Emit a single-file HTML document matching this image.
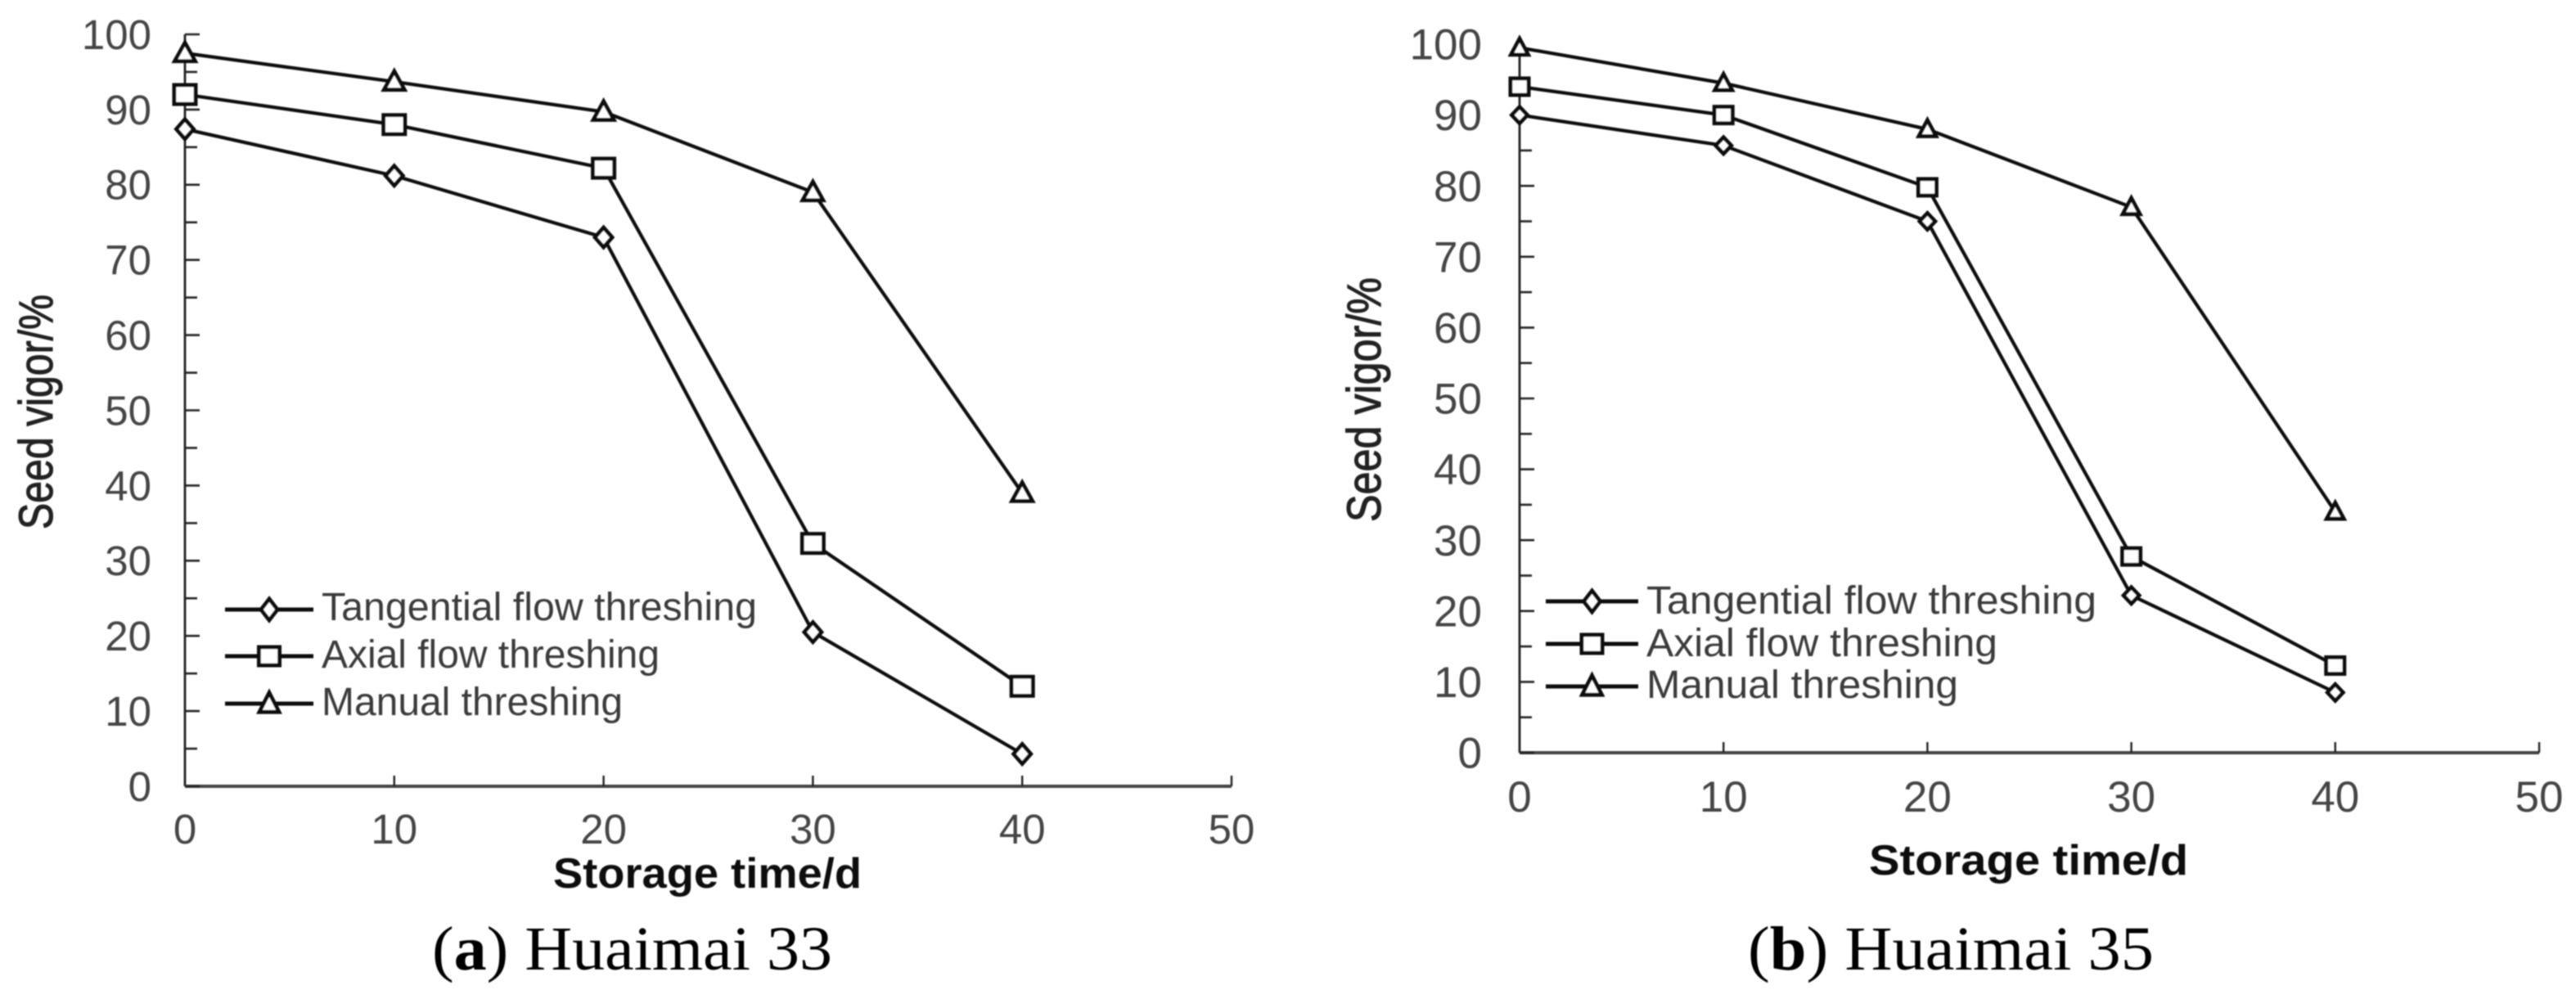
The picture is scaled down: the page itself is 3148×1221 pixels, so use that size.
<!DOCTYPE html>
<html lang="en">
<head>
<meta charset="utf-8">
<title>Seed vigor vs storage time</title>
<style>
html,body{margin:0;padding:0;background:#fff;}
svg{display:block;}
text{font-family:"Liberation Sans",sans-serif;}
.tick{fill:#444;}
.legend-label{fill:#3a3a3a;font-size:48px;}
.axis-title{fill:#111;font-weight:bold;font-size:52px;}
.y-title{fill:#222;font-size:58px;stroke:#222;stroke-width:1.1px;}
.caption{font-family:"Liberation Serif",serif;fill:#000;font-size:76px;}
</style>
</head>
<body>
<svg id="figure" xmlns="http://www.w3.org/2000/svg" width="3148" height="1221" viewBox="0 0 3148 1221">
  <defs><filter id="soft" x="-2%" y="-2%" width="104%" height="104%"><feGaussianBlur stdDeviation="0.9"/></filter></defs>
  <rect width="3148" height="1221" fill="#fff"/>
  <g filter="url(#soft)">
    <g id="panel-a"></g>
    <g id="panel-b"></g>

    <text class="y-title" transform="translate(64,647) rotate(-90)" textLength="287" lengthAdjust="spacingAndGlyphs">Seed vigor/%</text>
    <text class="axis-title" x="676" y="1085" textLength="377" lengthAdjust="spacingAndGlyphs">Storage time/d</text>
    <text class="legend-label" x="393" y="758" textLength="532" lengthAdjust="spacingAndGlyphs">Tangential flow threshing</text>
    <text class="legend-label" x="393" y="816" textLength="413" lengthAdjust="spacingAndGlyphs">Axial flow threshing</text>
    <text class="legend-label" x="393" y="874" textLength="368" lengthAdjust="spacingAndGlyphs">Manual threshing</text>
    <text class="caption" x="528" y="1185" textLength="489" lengthAdjust="spacingAndGlyphs">(<tspan font-weight="bold">a</tspan>) Huaimai 33</text>

    <text class="y-title" transform="translate(1687,638) rotate(-90)" textLength="299" lengthAdjust="spacingAndGlyphs">Seed vigor/%</text>
    <text class="axis-title" x="2284" y="1069" textLength="390" lengthAdjust="spacingAndGlyphs">Storage time/d</text>
    <text class="legend-label" x="2012" y="750" textLength="550" lengthAdjust="spacingAndGlyphs">Tangential flow threshing</text>
    <text class="legend-label" x="2012" y="802" textLength="429" lengthAdjust="spacingAndGlyphs">Axial flow threshing</text>
    <text class="legend-label" x="2012" y="853" textLength="381" lengthAdjust="spacingAndGlyphs">Manual threshing</text>
    <text class="caption" x="2136" y="1185" textLength="496" lengthAdjust="spacingAndGlyphs">(<tspan font-weight="bold">b</tspan>) Huaimai 35</text>
  </g>
</svg>
<script>
const storageDays = [0, 10, 20, 30, 40];
const xTickLabels = [0, 10, 20, 30, 40, 50];
const yTickLabels = [0, 10, 20, 30, 40, 50, 60, 70, 80, 90, 100];
const yMinorTicks = [5, 15, 25, 35, 45, 55, 65, 75, 85, 95];

const panelATangential = [87.4, 81.2, 73.0, 20.5, 4.3];
const panelAAxial = [92.0, 88.0, 82.2, 32.3, 13.3];
const panelAManual = [97.5, 93.7, 89.7, 79.0, 39.0];

const panelBTangential = [90.0, 85.7, 75.0, 22.2, 8.5];
const panelBAxial = [94.0, 90.0, 79.8, 27.7, 12.3];
const panelBManual = [99.5, 94.5, 88.0, 77.0, 34.0];

const NS = 'http://www.w3.org/2000/svg';

function make(tag, parent, geometry) {
  const node = document.createElementNS(NS, tag);
  for (const key in geometry) node.setAttribute(key, geometry[key]);
  parent.appendChild(node);
  return node;
}

function drawMarker(parent, kind, cx, cy, w, h) {
  const sw = 4.8;
  const style = {fill: '#fff', stroke: '#111', 'stroke-width': sw, 'stroke-linejoin': 'miter'};
  let node;
  if (kind === 'square') {
    node = make('rect', parent, Object.assign({x: cx - w / 2 + sw / 2, y: cy - h / 2 + sw / 2, width: w - sw, height: h - sw}, style));
  } else if (kind === 'diamond') {
    const p = [[cx, cy - h / 2 + 2], [cx + w / 2 - 2, cy], [cx, cy + h / 2 - 2], [cx - w / 2 + 2, cy]];
    node = make('polygon', parent, Object.assign({points: p.join(' ')}, style));
  } else {
    const p = [[cx, cy - h * 0.58 + 4], [cx + w / 2 - 3, cy + h * 0.42 - sw / 2], [cx - w / 2 + 3, cy + h * 0.42 - sw / 2]];
    node = make('polygon', parent, Object.assign({points: p.join(' ')}, style));
  }
  return node;
}

function drawPanel(root, layout, seriesList) {
  const sx = v => layout.x0 + (v / 50) * (layout.x50 - layout.x0);
  const sy = v => layout.y0 - (v / 100) * (layout.y0 - layout.y100);

  const yAxis = make('line', root, {x1: sx(0), x2: sx(0), y1: sy(100), y2: sy(0), stroke: '#222', 'stroke-width': 2.8});
  
  

  const xAxis = make('line', root, {x1: sx(0), x2: sx(50), y1: sy(0), y2: sy(0), stroke: '#444', 'stroke-width': 4});
  
  

  yTickLabels.forEach(v => {
    if (v <= layout.tickMax) {
      const tick = make('line', root, {x1: sx(0), x2: sx(0) + 18, y1: sy(v), y2: sy(v), stroke: '#222', 'stroke-width': 2.6});
      
      
    }
    const label = make('text', root, {x: layout.yLabelRight, y: sy(v) + layout.fontSize * 0.35, 'text-anchor': 'end', 'font-size': layout.fontSize, class: 'tick'});
    label.textContent = v;
    
    
  });

  yMinorTicks.forEach(v => {
    if (v > layout.tickMax) return;
    const tick = make('line', root, {x1: sx(0), x2: sx(0) + 15, y1: sy(v), y2: sy(v), stroke: '#222', 'stroke-width': 2.6});
    
    
  });

  xTickLabels.forEach(v => {
    if (v > 0) {
      const tick = make('line', root, {x1: sx(v), x2: sx(v), y1: sy(0), y2: sy(0) - 13, stroke: '#222', 'stroke-width': 2.4});
      
      
    }
    const label = make('text', root, {x: sx(v), y: layout.xLabelBase, 'text-anchor': 'middle', 'font-size': layout.fontSize, class: 'tick'});
    label.textContent = v;
    
    
  });

  seriesList.forEach(series => {
    const pts = series.values.map((v, i) => [sx(storageDays[i]), sy(v)]);
    const line = make('polyline', root, {points: pts.join(' '), fill: 'none', stroke: '#111', 'stroke-width': 4.2, 'stroke-linejoin': 'round'});
    
    
    pts.forEach(p => {
      const m = series.kind === 'square' ? layout.square : series.kind === 'diamond' ? layout.diamond : layout.triangle;
      const marker = drawMarker(root, series.kind, p[0], p[1], m[0], m[1]);
      
      
    });
    const swatch = make('line', root, {x1: layout.legendX0, x2: layout.legendX1, y1: series.legendY, y2: series.legendY, stroke: '#111', 'stroke-width': 5});
    
    
    const lm = series.kind === 'square' ? [30, 27] : series.kind === 'diamond' ? [24, 30] : [30, 30];
    const legendMarker = drawMarker(root, series.kind, (layout.legendX0 + layout.legendX1) / 2, series.legendY, lm[0], lm[1]);
    
    
  });
}

drawPanel(document.getElementById('panel-a'), {
  x0: 226, x50: 1505, y0: 961, y100: 42, fontSize: 51, yLabelRight: 185, xLabelBase: 1031, tickMax: 100,
  square: [31, 28], diamond: [25, 28], triangle: [31, 29], legendX0: 275, legendX1: 383
}, [
  {name: 'tangential', kind: 'diamond', values: panelATangential, legendY: 745},
  {name: 'axial', kind: 'square', values: panelAAxial, legendY: 802},
  {name: 'manual', kind: 'triangle', values: panelAManual, legendY: 860}
]);

drawPanel(document.getElementById('panel-b'), {
  x0: 1857, x50: 3103, y0: 920, y100: 54, fontSize: 53, yLabelRight: 1811, xLabelBase: 992, tickMax: 85,
  square: [27, 25], diamond: [23, 24], triangle: [27, 26], legendX0: 1889, legendX1: 2002
}, [
  {name: 'tangential', kind: 'diamond', values: panelBTangential, legendY: 735},
  {name: 'axial', kind: 'square', values: panelBAxial, legendY: 787},
  {name: 'manual', kind: 'triangle', values: panelBManual, legendY: 839}
]);
</script>
</body>
</html>
